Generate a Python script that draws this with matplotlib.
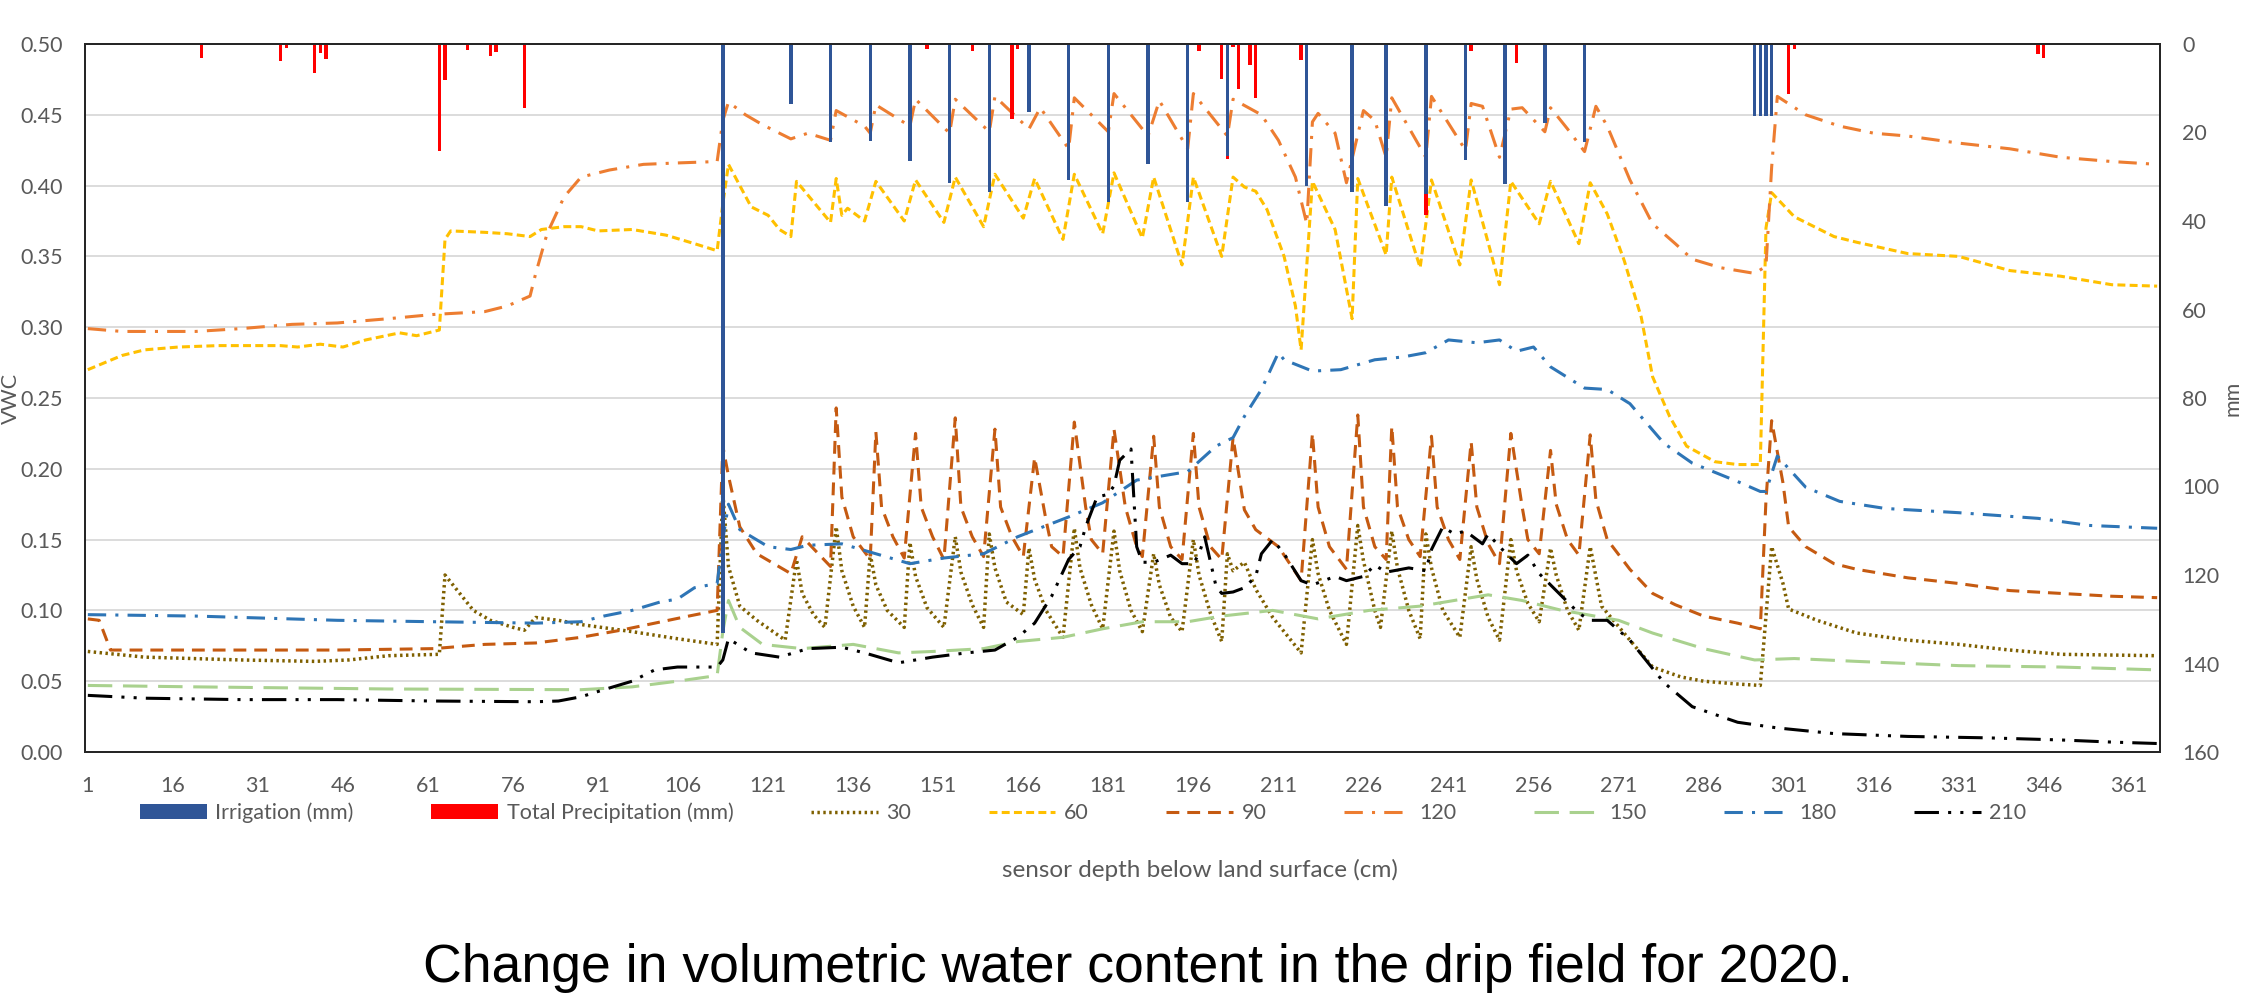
import matplotlib.pyplot as plt
import numpy as np

# ---- data (day of year, value) ----
irr_day = [113, 125, 132, 139, 146, 153, 160, 167, 174, 181, 188, 195, 202,
           216, 224, 230, 237, 244, 251, 258, 265, 295, 296, 297, 298]
irr_mm = [133, 13.5, 22.2, 21.9, 26.4, 31.3, 33.5, 15.3, 30.8, 35.8, 27.2, 35.8, 25.2,
          32.2, 33.4, 36.5, 34.0, 26.3, 31.7, 17.9, 22.2, 16.2, 16.2, 16.2, 16.2]

pcp_day = [10, 16, 21, 35, 36, 41, 42, 43, 63, 64, 68, 72, 73, 78, 79, 149, 157, 164, 165,
           197, 201, 202, 203, 204, 206, 207, 215, 226, 237, 245, 253, 301, 302, 305, 313,
           345, 346]
pcp_mm = [0.3, 0.3, 3.1, 3.8, 0.8, 6.6, 2.1, 3.4, 24.2, 8.2, 1.4, 2.6, 1.9, 14.5, 0.3,
          1.1, 1.6, 17.0, 1.1, 1.6, 7.9, 26.0, 0.7, 10.2, 4.7, 12.3, 3.6, 0.3, 38.6, 1.6,
          4.4, 11.3, 1.1, 0.3, 0.3, 2.3, 3.1]

d30 = [1, 11, 28, 41, 47, 54, 63, 64, 66, 69, 72, 76, 78, 80, 84, 88, 97, 105, 112,
       113, 114, 116, 119, 124, 126, 127, 129, 131, 133, 134, 136, 138, 139, 140, 142, 145,
       146, 147, 149, 152, 154, 155, 157, 159, 160, 161, 163, 166, 167, 168, 170, 173,
       175, 176, 178, 180, 182, 183, 185, 187, 189, 190, 192, 194, 196, 197, 199, 201,
       202, 203, 205, 207, 210, 213, 215, 217, 218, 220, 223, 225, 226, 228, 229, 231,
       232, 234, 236, 237, 238, 240, 243, 245, 246, 248, 250, 252, 253, 255, 257, 259,
       260, 262, 264, 266, 268, 273, 277, 282, 286, 292, 296, 298, 300, 301, 306, 313,
       322, 331, 340, 349, 366]
v30 = [0.071, 0.067, 0.065, 0.064, 0.065, 0.068, 0.069, 0.125, 0.115, 0.100, 0.093, 0.088,
       0.086, 0.095, 0.093, 0.090, 0.085, 0.080, 0.076,
       0.183, 0.131, 0.103, 0.093, 0.079, 0.136, 0.112, 0.097, 0.088, 0.159, 0.128, 0.103,
       0.088, 0.140, 0.118, 0.100, 0.088, 0.148, 0.124, 0.102, 0.088, 0.152, 0.127, 0.104,
       0.088, 0.154, 0.130, 0.106, 0.097, 0.144, 0.122, 0.100, 0.081, 0.158, 0.130, 0.104,
       0.087, 0.156, 0.128, 0.100, 0.085, 0.140, 0.118, 0.095, 0.085, 0.150, 0.125, 0.098,
       0.078, 0.140, 0.128, 0.134, 0.115, 0.095, 0.080, 0.070, 0.150, 0.126, 0.100, 0.076,
       0.160, 0.135, 0.100, 0.088, 0.156, 0.130, 0.100, 0.080, 0.154, 0.130, 0.100, 0.081,
       0.145, 0.122, 0.095, 0.079, 0.150, 0.128, 0.105, 0.092, 0.144, 0.125, 0.100, 0.086,
       0.145, 0.103, 0.079, 0.060, 0.053, 0.050, 0.048, 0.047, 0.145, 0.119, 0.101, 0.093,
       0.084, 0.079, 0.076, 0.072, 0.069, 0.068]

d60 = [1, 7, 11, 17, 24, 35, 38, 42, 46, 50, 56, 59, 63, 64, 65, 71, 75, 79, 81, 85, 88,
       91, 97, 103, 108, 112, 113, 114, 118, 121, 123, 125, 126, 132, 133, 134, 135, 138,
       140, 145, 147, 152, 154, 159, 161, 166, 168, 173, 175, 180, 182, 187, 189, 194, 196,
       201, 203, 205, 207, 209, 212, 214, 215, 217, 221, 224, 225, 230, 231, 236, 238, 243,
       245, 250, 252, 257, 259, 264, 266, 269, 272, 275, 277, 280, 283, 288, 292, 296, 297,
       298, 302, 309, 313, 322, 331, 340, 349, 358, 366]
v60 = [0.270, 0.280, 0.284, 0.286, 0.287, 0.287, 0.286, 0.288, 0.286, 0.291, 0.296, 0.294,
       0.298, 0.362, 0.368, 0.367, 0.366, 0.364, 0.369, 0.371, 0.371, 0.368, 0.369, 0.365,
       0.359, 0.354, 0.387, 0.415, 0.385, 0.379, 0.369, 0.364, 0.403, 0.374, 0.405, 0.379,
       0.384, 0.375, 0.403, 0.375, 0.404, 0.374, 0.406, 0.371, 0.408, 0.377, 0.405, 0.362,
       0.408, 0.366, 0.409, 0.363, 0.406, 0.344, 0.406, 0.350, 0.406, 0.399, 0.396, 0.383,
       0.350, 0.315, 0.284, 0.403, 0.369, 0.306, 0.405, 0.351, 0.406, 0.342, 0.404, 0.344,
       0.404, 0.330, 0.403, 0.373, 0.403, 0.359, 0.402, 0.380, 0.347, 0.307, 0.265, 0.237,
       0.216, 0.205, 0.203, 0.203, 0.370, 0.395, 0.378, 0.364, 0.360, 0.352, 0.350, 0.340,
       0.336, 0.330, 0.329]

d90 = [1, 3, 5, 45, 62, 71, 80, 88, 95, 101, 107, 112, 113, 114, 116, 119, 125, 127, 132,
       133, 134, 136, 139, 140, 141, 143, 145, 147, 148, 150, 152, 154, 155, 157, 159, 161,
       162, 164, 166, 168, 170, 171, 173, 175, 177, 178, 180, 182, 184, 186, 187, 189, 190,
       192, 194, 196, 197, 199, 201, 203, 205, 207, 211, 215, 217, 218, 220, 223, 225, 226,
       228, 230, 231, 232, 234, 236, 238, 239, 241, 243, 245, 246, 248, 250, 252, 254, 255,
       257, 259, 260, 262, 264, 266, 267, 269, 273, 277, 281, 286, 292, 296, 297, 298, 300,
       301, 304, 309, 313, 322, 331, 340, 349, 358, 366]
v90 = [0.094, 0.093, 0.072, 0.072, 0.073, 0.076, 0.077, 0.081, 0.086, 0.091, 0.096, 0.100,
       0.216, 0.195, 0.159, 0.140, 0.126, 0.152, 0.131, 0.243, 0.180, 0.152, 0.136, 0.226,
       0.173, 0.152, 0.137, 0.225, 0.173, 0.152, 0.136, 0.236, 0.173, 0.152, 0.138, 0.228,
       0.173, 0.152, 0.138, 0.208, 0.164, 0.145, 0.138, 0.233, 0.173, 0.150, 0.140, 0.228,
       0.173, 0.145, 0.138, 0.223, 0.173, 0.145, 0.136, 0.225, 0.173, 0.145, 0.136, 0.222,
       0.171, 0.157, 0.145, 0.121, 0.225, 0.173, 0.145, 0.129, 0.238, 0.173, 0.145, 0.136,
       0.230, 0.173, 0.150, 0.138, 0.223, 0.173, 0.150, 0.136, 0.219, 0.173, 0.147, 0.133,
       0.225, 0.173, 0.150, 0.140, 0.213, 0.175, 0.150, 0.139, 0.224, 0.178, 0.150, 0.129,
       0.112, 0.104, 0.096, 0.091, 0.087, 0.178, 0.234, 0.190, 0.159, 0.145, 0.133, 0.129,
       0.123, 0.119, 0.114, 0.112, 0.110, 0.109]

d120 = [1, 7, 20, 28, 37, 45, 54, 62, 71, 75, 79, 80, 82, 85, 88, 93, 99, 105, 112, 113,
        114, 117, 120, 125, 128, 132, 133, 138, 139, 140, 146, 147, 153, 154, 160, 161, 167,
        169, 174, 175, 181, 182, 188, 190, 195, 196, 202, 203, 208, 211, 214, 216, 217, 218,
        221, 223, 226, 228, 230, 231, 237, 238, 244, 245, 247, 250, 252, 254, 258, 259, 262,
        265, 267, 269, 273, 277, 281, 284, 289, 295, 297, 298, 299, 304, 310, 316, 322, 331,
        340, 349, 358, 366]
v120 = [0.299, 0.297, 0.297, 0.299, 0.302, 0.303, 0.306, 0.309, 0.311, 0.315, 0.322, 0.338,
        0.366, 0.392, 0.406, 0.411, 0.415, 0.416, 0.417, 0.446, 0.459, 0.450, 0.443, 0.433,
        0.437, 0.432, 0.453, 0.442, 0.437, 0.457, 0.442, 0.461, 0.437, 0.461, 0.438, 0.463,
        0.440, 0.455, 0.426, 0.462, 0.438, 0.465, 0.435, 0.460, 0.426, 0.465, 0.435, 0.461,
        0.450, 0.432, 0.406, 0.373, 0.445, 0.451, 0.437, 0.402, 0.453, 0.446, 0.420, 0.462,
        0.420, 0.463, 0.425, 0.458, 0.456, 0.420, 0.454, 0.455, 0.438, 0.455, 0.440, 0.424,
        0.456, 0.442, 0.404, 0.373, 0.359, 0.348, 0.342, 0.338, 0.343, 0.413, 0.463, 0.450,
        0.442, 0.437, 0.435, 0.430, 0.426, 0.420, 0.417, 0.415]

d150 = [1, 20, 54, 88, 97, 105, 112, 113, 114, 116, 120, 127, 136, 144, 150, 159, 165, 173,
        180, 187, 195, 201, 210, 218, 227, 236, 242, 248, 254, 261, 264, 271, 277, 286, 295,
        302, 313, 331, 349, 366]
v150 = [0.047, 0.046, 0.0445, 0.044, 0.046, 0.050, 0.054, 0.085, 0.107, 0.088, 0.076, 0.073,
        0.076, 0.070, 0.071, 0.073, 0.078, 0.081, 0.087, 0.092, 0.092, 0.096, 0.100, 0.094,
        0.100, 0.103, 0.107, 0.111, 0.107, 0.100, 0.098, 0.093, 0.084, 0.073, 0.065, 0.066,
        0.064, 0.061, 0.060, 0.058]

d180 = [1, 20, 45, 62, 80, 88, 92, 97, 102, 105, 108, 112, 113, 114, 116, 121, 125, 128,
        134, 140, 146, 152, 159, 165, 174, 180, 186, 192, 195, 200, 203, 205, 208, 211, 212,
        217, 222, 228, 233, 237, 241, 246, 250, 253, 256, 259, 265, 269, 273, 279, 284, 292,
        296, 297, 299, 304, 310, 318, 331, 345, 354, 366]
v180 = [0.097, 0.096, 0.093, 0.092, 0.091, 0.092, 0.096, 0.100, 0.106, 0.108, 0.116, 0.119,
        0.150, 0.175, 0.157, 0.145, 0.143, 0.146, 0.147, 0.140, 0.133, 0.137, 0.140, 0.152,
        0.166, 0.176, 0.192, 0.196, 0.198, 0.216, 0.222, 0.237, 0.256, 0.282, 0.277, 0.269,
        0.270, 0.277, 0.279, 0.282, 0.291, 0.289, 0.291, 0.283, 0.286, 0.272, 0.257, 0.256,
        0.246, 0.218, 0.204, 0.191, 0.184, 0.184, 0.209, 0.187, 0.177, 0.172, 0.169, 0.165,
        0.160, 0.158]

d210 = [1, 11, 28, 45, 62, 80, 84, 88, 92, 97, 101, 105, 112, 113, 114, 118, 123, 128, 134,
        138, 144, 150, 156, 161, 165, 168, 171, 174, 176, 177, 179, 181, 182, 183, 185, 186,
        187, 189, 192, 194, 196, 197, 198, 200, 201, 203, 205, 207, 208, 210, 212, 215, 217,
        221, 223, 226, 228, 230, 234, 237, 238, 240, 242, 244, 247, 248, 250, 253, 255, 257,
        260, 264, 266, 269, 273, 279, 284, 292, 299, 309, 322, 336, 349, 358, 366]
v210 = [0.040, 0.038, 0.037, 0.037, 0.036, 0.0355, 0.036, 0.039, 0.044, 0.050, 0.058, 0.060,
        0.060, 0.065, 0.080, 0.070, 0.067, 0.073, 0.074, 0.070, 0.063, 0.067, 0.070, 0.072,
        0.081, 0.091, 0.110, 0.136, 0.145, 0.159, 0.180, 0.182, 0.188, 0.206, 0.214, 0.145,
        0.134, 0.134, 0.139, 0.133, 0.133, 0.140, 0.152, 0.117, 0.112, 0.113, 0.116, 0.124,
        0.140, 0.150, 0.140, 0.121, 0.118, 0.124, 0.121, 0.124, 0.132, 0.127, 0.130, 0.128,
        0.143, 0.159, 0.154, 0.156, 0.147, 0.154, 0.145, 0.133, 0.139, 0.126, 0.114, 0.098,
        0.093, 0.093, 0.079, 0.049, 0.032, 0.021, 0.017, 0.013, 0.011, 0.010, 0.0085, 0.007,
        0.006]

xtick_days = list(range(1, 362, 15))

# ---- style ----
plt.rcParams['font.family'] = ['Lato', 'DejaVu Sans']
gray = '#595959'
fs = 15.5

fig = plt.figure(figsize=(22.48, 9.98), dpi=100)
ax = fig.add_axes([85 / 2248, 1 - 752 / 998, 2075 / 2248, 708 / 998])
ax2 = ax.twinx()

lw = 2.2
l30, = ax.plot(d30, v30, color='#7F6000', lw=2.5, ls=(0, (0.7, 1.0)), label='30')
l60, = ax.plot(d60, v60, color='#FFC000', lw=lw, ls=(0, (2.6, 1.4)), label='60')
l90, = ax.plot(d90, v90, color='#C55A11', lw=lw, ls=(0, (4.2, 2.6)), label='90')
l120, = ax.plot(d120, v120, color='#ED7D31', lw=lw, ls=(0, (6, 3, 1, 3)), label='120')
l150, = ax.plot(d150, v150, color='#A9D18E', lw=lw, ls=(0, (8, 3.5)), label='150')
l180, = ax.plot(d180, v180, color='#2E75B6', lw=lw, ls=(0, (6, 3, 1, 3)), label='180')
l210, = ax.plot(d210, v210, color='black', lw=lw, ls=(0, (8, 3, 1, 3, 1, 3)), label='210')

# bars hang from the top on the inverted mm axis
b_pcp = ax2.bar(pcp_day, pcp_mm, width=0.6, color='#FF0000', label='Total Precipitation (mm)')
b_irr = ax2.bar(irr_day, irr_mm, width=0.6, color='#2F5597', label='Irrigation (mm)')

ax.set_xlim(0.5, 366.5)
ax.set_ylim(0, 0.5)
ax.set_yticks(np.arange(0, 0.51, 0.05))
ax.set_yticklabels([f'{t:.2f}' for t in np.arange(0, 0.51, 0.05)])
ax.set_xticks(xtick_days)
ax2.set_ylim(160, 0)
ax2.set_yticks(range(0, 161, 20))

ax.grid(axis='y', color='#D9D9D9', lw=1.3)
ax.set_axisbelow(True)
ax.tick_params(axis='both', length=0, labelsize=fs, labelcolor=gray)
ax.tick_params(axis='x', pad=17)
ax.tick_params(axis='y', pad=16)
ax2.tick_params(axis='y', length=0, labelsize=fs, labelcolor=gray, pad=16)
for a in (ax, ax2):
    for s in a.spines.values():
        s.set_color('#262626')
        s.set_linewidth(1.4)

# axis titles
fig.text(1 / 2248, 1 - 398 / 998, 'VWC', rotation=90, ha='left', va='center',
         fontsize=fs, color=gray)
fig.text(2232 / 2248, 1 - 398 / 998, 'mm', rotation=90, ha='center', va='center',
         fontsize=fs, color=gray)
fig.text(1200 / 2248, 1 - 870 / 998, 'sensor depth below land surface (cm)',
         ha='center', va='center', fontsize=17.5, color=gray)

# legend row
handles = [b_irr, b_pcp, l30, l60, l90, l120, l150, l180, l210]
labels = ['Irrigation (mm)', 'Total Precipitation (mm)', '30', '60', '90', '120', '150', '180', '210']
leg = fig.legend(handles, labels, loc='center left', bbox_to_anchor=(140 / 2248, 1 - 813 / 998),
                 ncol=9, frameon=False, fontsize=fs, handlelength=3.1, handletextpad=0.4,
                 columnspacing=3.6, borderpad=0, borderaxespad=0)
for t in leg.get_texts():
    t.set_color(gray)

fig.text(1138 / 2248, 1 - 968 / 998, 'Change in volumetric water content in the drip field for 2020.',
         ha='center', va='center', fontsize=38.5, family=['Liberation Sans', 'DejaVu Sans'])

fig.savefig('out.png', dpi=100)
